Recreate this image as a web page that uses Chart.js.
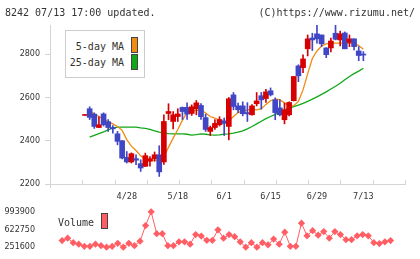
<!DOCTYPE html>
<html><head><meta charset="utf-8">
<script src="https://cdn.jsdelivr.net/npm/chart.js@4/dist/chart.umd.min.js"></script>
<style>
html,body{margin:0;padding:0;background:#fff;}
#wrap{position:relative;width:420px;height:259px;overflow:hidden;font-family:"DejaVu Sans Mono",monospace;color:#333;}
canvas{position:absolute;left:0;}
.t{position:absolute;font-size:10px;line-height:12px;white-space:nowrap;}
.sw{position:absolute;box-sizing:border-box;border:1px solid #444;}
#lg{position:absolute;left:65px;top:30px;width:80px;height:48px;box-sizing:border-box;border:1px solid #ccc;background:#fff;}
</style></head>
<body>
<div id="wrap">
  <canvas id="main" width="420" height="205" style="top:0"></canvas>
  <canvas id="vol" width="420" height="59" style="top:200px"></canvas>
  <div class="t" style="left:5px;top:7px">8242 07/13 17:00 updated.</div>
  <div class="t" style="right:5px;top:7px">(C)https://www.rizumu.net/</div>
  <div id="lg"></div>
  <div class="t" style="right:296px;top:41px">5-day MA</div>
  <div class="sw" style="left:131px;top:37px;width:7px;height:16px;background:#f08c10"></div>
  <div class="t" style="right:296px;top:57px">25-day MA</div>
  <div class="sw" style="left:131px;top:54px;width:7px;height:16px;background:#10a818"></div>
  <div class="t" style="left:58px;top:217px">Volume</div>
  <div class="sw" style="left:101px;top:213px;width:7px;height:16px;background:#ff5f64"></div>
</div>
<script>
// ---- data ----
const openP  = [2517,2548,2523,2461,2524,2488,2461,2432,2400,2323,2302,2317,2294,2282,2305,2317,2335,2302,2526,2489,2512,2554,2554,2526,2548,2563,2507,2443,2461,2474,2492,2466,2612,2561,2561,2530,2520,2571,2608,2595,2631,2589,2552,2497,2520,2585,2746,2738,2825,2875,2894,2889,2829,2829,2897,2866,2898,2854,2871,2815,2800];
const highP  = [2520,2557,2529,2511,2529,2498,2470,2443,2402,2350,2344,2335,2312,2343,2327,2348,2377,2520,2571,2535,2548,2556,2575,2566,2586,2572,2523,2468,2498,2511,2505,2600,2623,2574,2580,2576,2567,2623,2623,2638,2644,2598,2589,2574,2580,2697,2751,2797,2889,2897,2935,2889,2830,2874,2935,2907,2903,2889,2871,2835,2812];
const lowP   = [2517,2498,2457,2461,2468,2443,2435,2381,2316,2297,2297,2289,2258,2280,2282,2305,2235,2290,2497,2455,2489,2498,2498,2517,2520,2498,2443,2424,2452,2468,2424,2404,2543,2530,2515,2489,2518,2561,2546,2577,2607,2497,2515,2478,2515,2584,2673,2715,2792,2817,2851,2835,2784,2811,2866,2838,2825,2835,2820,2770,2770];
const closeP = [2520,2508,2466,2474,2474,2461,2455,2397,2320,2302,2340,2310,2274,2331,2317,2335,2256,2489,2535,2520,2524,2535,2523,2557,2575,2511,2452,2461,2480,2498,2480,2594,2558,2543,2525,2524,2561,2584,2589,2626,2612,2530,2520,2543,2577,2697,2700,2778,2871,2866,2871,2848,2798,2861,2869,2894,2825,2871,2835,2794,2796];
const ma5    = [null,2537,2523,2512,2500,2488,2478,2466,2448,2405,2375,2355,2330,2315,2310,2310,2310,2325,2370,2412,2452,2495,2530,2538,2540,2542,2528,2512,2505,2496,2484,2490,2512,2530,2538,2542,2546,2543,2548,2568,2585,2592,2590,2575,2560,2562,2582,2635,2710,2780,2815,2838,2848,2851,2851,2851,2851,2851,2850,2840,2823];
const ma25   = [null,2417,2425,2433,2441,2450,2459,2463,2463,2463,2463,2463,2459,2457,2452,2446,2440,2435,2433,2432,2432,2432,2430,2426,2428,2432,2430,2427,2426,2427,2431,2432,2435,2440,2446,2455,2466,2478,2490,2502,2512,2522,2533,2543,2551,2558,2565,2573,2582,2592,2603,2614,2626,2639,2652,2666,2682,2697,2710,2722,2735];
const volume = [null,390000,440300,345950,314500,270500,270500,314500,283000,252000,270500,333400,251600,333400,283000,377400,704500,993900,534700,534700,283000,283000,364800,364800,314500,515800,484400,396300,396300,616500,440300,515800,471800,364800,251600,345950,251600,345950,301900,421500,314500,566100,270500,270500,754900,490600,597600,503200,578700,440300,578700,515800,408900,408900,490600,515800,490600,345950,327100,364800,390000];
const dateTickPos    = [9,20,30,40,50,60];
const dateTickLabels = ['4/28','5/18','6/1','6/15','6/29','7/13'];
const priceTicks  = [2200,2400,2600,2800];
const volumeTicks = [251600,622750,993900];

// ---- styling ----
const RED='#d60000', BLUE='#4046c4', ORANGE='#f08c10', GREEN='#10a818', VOL='#ff5f64', AX='#d4d4d4';
const XMIN=-1.17, XMAX=62.6;
const idx = openP.map((_,i)=>i);
const cCol = idx.map(i => closeP[i] >= openP[i] ? RED : BLUE);
const labelFont = {family:'DejaVu Sans', size:8};
const plain = v => String(v);

const xTicksPlugin = {
  id:'xTicksInward',
  afterDraw(c){
    const a=c.chartArea, ctx=c.ctx;
    ctx.save(); ctx.strokeStyle=AX; ctx.lineWidth=1;
    for(let k=0;k<=11;k++){
      const x=Math.round(a.left + k*(a.right-a.left)/11)+0.5;
      ctx.beginPath(); ctx.moveTo(x,a.bottom-4); ctx.lineTo(x,a.bottom); ctx.stroke();
    }
    ctx.beginPath(); ctx.moveTo(Math.round(a.left)+0.5,a.bottom); ctx.lineTo(Math.round(a.left)+0.5,a.bottom+4); ctx.stroke();
    ctx.restore();
  }
};

new Chart(document.getElementById('main'), {
  data:{datasets:[
    {type:'line', data:idx.map(i=>({x:i,y:ma25[i]})), borderColor:GREEN, borderWidth:1.3, pointRadius:0, order:4},
    {type:'line', data:idx.map(i=>({x:i,y:ma5[i]})), borderColor:ORANGE, borderWidth:1.3, pointRadius:0, order:3},
    {type:'bar', data:idx.map(i=>({x:i,y:[lowP[i],highP[i]]})), backgroundColor:cCol, barThickness:1, grouped:false, order:2},
    {type:'bar', data:idx.map(i=>({x:i,y:[openP[i],closeP[i]]})), backgroundColor:cCol, barThickness:5, minBarLength:1, grouped:false, order:1}
  ]},
  options:{
    responsive:false, animation:false, events:[],
    layout:{padding:{top:25,right:15,left:0,bottom:0}},
    plugins:{legend:{display:false}, tooltip:{enabled:false}},
    scales:{
      x:{type:'linear', min:XMIN, max:XMAX,
         grid:{display:true, drawOnChartArea:false, drawTicks:false, tickLength:0},
         border:{color:AX},
         ticks:{font:{family:'DejaVu Sans Mono', size:8.5}, color:'#333', padding:8, maxRotation:0, autoSkip:false,
                callback:v=>{const k=dateTickPos.indexOf(v); return k<0?'':dateTickLabels[k];}},
         afterBuildTicks:s=>{s.ticks=dateTickPos.map(v=>({value:v}));},
         afterFit:s=>{s.height=21;}},
      y:{min:2200, max:2935,
         grid:{drawOnChartArea:false, tickLength:5, color:AX},
         border:{color:AX},
         ticks:{font:labelFont, color:'#333', padding:5, callback:plain},
         afterBuildTicks:s=>{s.ticks=priceTicks.map(v=>({value:v}));},
         afterFit:s=>{s.width=50;}}
    }
  },
  plugins:[xTicksPlugin]
});

new Chart(document.getElementById('vol'), {
  type:'line',
  data:{datasets:[{data:idx.map(i=>({x:i,y:volume[i]})), borderColor:VOL, backgroundColor:VOL,
    borderWidth:1, pointStyle:'rectRot', pointRadius:3.6, pointBorderWidth:0, clip:false}]},
  options:{
    responsive:false, animation:false, events:[],
    layout:{padding:{top:9,right:15,left:0,bottom:10.7}},
    plugins:{legend:{display:false}, tooltip:{enabled:false}},
    scales:{
      x:{type:'linear', min:XMIN, max:XMAX, display:false},
      y:{min:251600, max:993900,
         grid:{display:false}, border:{display:false},
         ticks:{font:labelFont, color:'#333', padding:7, callback:plain},
         afterBuildTicks:s=>{s.ticks=volumeTicks.map(v=>({value:v}));},
         afterFit:s=>{s.width=50;}}
    }
  }
});
</script>
</body></html>
